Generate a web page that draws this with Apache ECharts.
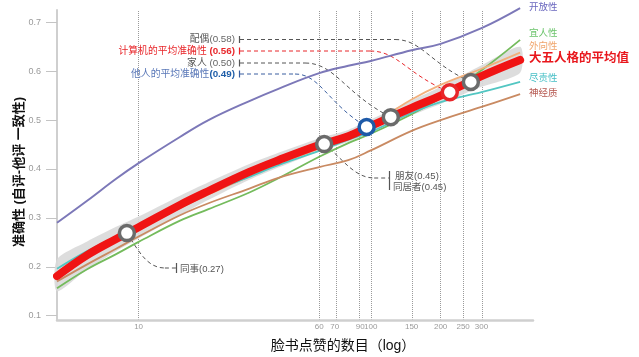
<!DOCTYPE html>
<html><head><meta charset="utf-8">
<script src="https://cdn.jsdelivr.net/npm/echarts@6/dist/echarts.min.js"></script>
<style>html,body{margin:0;padding:0;background:#fff}#c{width:639px;height:357px}</style>
</head><body><div id="c"></div>
<script>
// ---------- data ----------
const likes     = [4.45, 6, 8, 10, 15, 20, 30, 40, 60, 80, 100, 150, 200, 300, 440];
const meanAcc   = [0.181,0.224,0.257,0.281,0.326,0.355,0.394,0.418,0.449,0.467,0.488,0.525,0.550,0.590,0.623];
const bandLow   = [0.150,0.195,0.232,0.258,0.305,0.337,0.378,0.403,0.436,0.455,0.475,0.510,0.533,0.568,0.597];
const bandHigh  = [0.215,0.252,0.282,0.303,0.345,0.373,0.410,0.433,0.463,0.480,0.501,0.540,0.568,0.612,0.650];
const openness  = [0.290,0.335,0.380,0.412,0.465,0.500,0.539,0.564,0.596,0.611,0.621,0.643,0.656,0.688,0.729];
const agreeable = [0.156,0.195,0.226,0.251,0.294,0.318,0.352,0.381,0.425,0.453,0.472,0.512,0.545,0.602,0.664];
const extravert = [0.178,0.220,0.252,0.276,0.320,0.348,0.385,0.410,0.442,0.465,0.490,0.542,0.572,0.605,0.638];
const conscient = [0.196,0.232,0.262,0.284,0.326,0.352,0.384,0.408,0.437,0.460,0.476,0.515,0.537,0.557,0.578];
const neurotic  = [0.170,0.205,0.237,0.262,0.305,0.330,0.360,0.382,0.404,0.418,0.438,0.478,0.500,0.527,0.553];
const tickLikes = [10, 60, 70, 90, 100, 150, 200, 250, 300];
const yTicks    = [0.1, 0.2, 0.3, 0.4, 0.5, 0.6, 0.7];
const judgeKeys = ['coworker', 'friend', 'others', 'family', 'computer', 'spouse'];
const judgeLikes= [8.9, 63, 96, 122, 219, 270];
const judgeAcc  = [0.269, 0.451, 0.486, 0.506, 0.557, 0.578];
const traitNames = ['开放性', '宜人性', '外向性', '尽责性', '神经质'];
const meanName = '大五人格的平均值';
const xName = '脸书点赞的数目（log）';
const yName = '准确性 (自评-他评 一致性)';

// ---------- styles ----------
const FONT = '"Liberation Sans","Noto Sans CJK SC",sans-serif';
const traitStyle = [
  {line:'#7c78b8', label:'#6b68bf', w:2,   off:[0,-1]},
  {line:'#74bb5c', label:'#6cc46c', w:1.8, off:[0,-7]},
  {line:'#f2b07c', label:'#f0a56c', w:1.8, off:[0,-6]},
  {line:'#52c6c2', label:'#47bfc6', w:1.8, off:[0,-4]},
  {line:'#c98a62', label:'#b5564e', w:1.8, off:[0,-1]}
];
const traitData = [openness, agreeable, extravert, conscient, neurotic];
const markerColor = {coworker:'#6b6b6b', friend:'#6b6b6b', others:'#1e5aa8', family:'#6b6b6b', computer:'#e8262a', spouse:'#6b6b6b'};

const L = v => Math.log10(v);
const pts = arr => likes.map((n, i) => [L(n), arr[i]]);

const series = [];
series.push({type:'custom', name:'band', z:1, silent:true,
  data: likes.map((n,i)=>[L(n), bandLow[i], bandHigh[i]]),
  renderItem: function(params, api){
    if (params.dataIndex !== 0) return;
    const up = likes.map((n,i)=>api.coord([L(n), bandHigh[i]]));
    const lo = likes.map((n,i)=>api.coord([L(n), bandLow[i]])).reverse();
    return {type:'polygon', shape:{points: up.concat(lo), smooth:0.25}, style:{fill:'#d9d9d9', opacity:0.9}};
  }});
traitData.forEach((arr, k) => {
  const s = traitStyle[k];
  const ser = {type:'line', name:traitNames[k], data:pts(arr), smooth:0.4, symbol:'none', clip:false,
    lineStyle:{color:s.line, width:s.w}, z:3,
    endLabel:{show:true, formatter:traitNames[k], color:s.label, fontSize:9.5, fontFamily:FONT, distance:9, offset:s.off}};
  if (k === 0) ser.markLine = {silent:true, symbol:['none','none'], label:{show:false}, z:0,
    lineStyle:{type:'dotted', color:'#9a9a9a', width:1},
    data: tickLikes.map(t => ({xAxis: L(t)}))};
  series.push(ser);
});
series.push({type:'line', name:meanName, data:pts(meanAcc), smooth:0.4, symbol:'none', clip:false,
  lineStyle:{color:'#f01414', width:8, cap:'round'}, z:4,
  endLabel:{show:true, formatter:meanName, color:'#e8161c', fontSize:12.5, fontWeight:'bold', fontFamily:FONT, distance:9, offset:[0,-1]}});
series.push({type:'scatter', name:'judges', z:6, symbol:'circle', symbolSize:15,
  data: judgeKeys.map((k,i)=>({value:[L(judgeLikes[i]), judgeAcc[i]],
    itemStyle:{color:'#fff', opacity:1, borderColor:markerColor[k], borderWidth:3.5}}))});

const chart = echarts.init(document.getElementById('c'), null, {renderer:'canvas'});
chart.setOption({
  animation:false,
  grid:{left:57, right:106, top:10, bottom:37},
  xAxis:{type:'value', min:L(4.45), max:L(500),
    axisLine:{lineStyle:{color:'#cfcfcf', width:2.5}},
    axisTick:{show:false}, splitLine:{show:false},
    axisLabel:{customValues: tickLikes.map(L), formatter: v => String(Math.round(Math.pow(10, v))),
      color:'#9a9a9a', fontSize:8, margin:3, fontFamily:FONT}},
  yAxis:{type:'value', min:0.0912, max:0.7252,
    axisLine:{show:true, lineStyle:{color:'#cfcfcf', width:2}},
    axisTick:{show:true, customValues:yTicks, length:11, lineStyle:{color:'#c4c4c4', width:1}},
    splitLine:{show:false},
    axisLabel:{customValues:yTicks, formatter: v => v.toFixed(1), color:'#9a9a9a', fontSize:9, margin:16, fontFamily:FONT}},
  series: series
});

// ---------- annotations ----------
const P = i => chart.convertToPixel({gridIndex:0}, [L(judgeLikes[i]), judgeAcc[i]]);
const g = [];
const dash = [4, 3];
function txt(x, y, text, style) {
  g.push({type:'text', x, y, z:10, style:Object.assign({text, fontSize:9.5, fontFamily:FONT, fill:'#555', align:'left', verticalAlign:'middle'}, style)});
}
function line(points, color) { g.push({type:'polyline', z:1, shape:{points}, style:{stroke:color, lineWidth:1, lineDash:dash, fill:null}}); }
function solid(points, color) { g.push({type:'polyline', z:1, shape:{points}, style:{stroke:color, lineWidth:1.2, fill:null}}); }
function bez(x1,y1,c1x,c1y,c2x,c2y,x2,y2,color){ g.push({type:'bezierCurve', z:1, shape:{x1,y1,cpx1:c1x,cpy1:c1y,cpx2:c2x,cpy2:c2y,x2,y2}, style:{stroke:color, lineWidth:1, lineDash:dash, fill:null}}); }

const topAnn = [
  {i:5, y:39.5, color:'#555', bend:395, rich:'{a|配偶}{b|(0.58)}', a:{fill:'#555'}, b:{fill:'#666'}},
  {i:4, y:51,   color:'#e8262a', bend:370, rich:'{a|计算机的平均准确性 }{b|(0.56)}', a:{fill:'#e8262a'}, b:{fill:'#e8262a', fontWeight:'bold'}},
  {i:3, y:63,   color:'#555', bend:305, rich:'{a|家人 }{b|(0.50)}', a:{fill:'#555'}, b:{fill:'#666'}},
  {i:2, y:74,   color:'#3a5fa0', bend:295, rich:'{a|他人的平均准确性}{b|(0.49)}', a:{fill:'#5a78b8'}, b:{fill:'#1f5ea8', fontWeight:'bold'}}
];
topAnn.forEach(a => {
  const p = P(a.i);
  g.push({type:'text', x:235, y:a.y, z:10, style:{text:a.rich, align:'right', verticalAlign:'middle',
    rich:{a:Object.assign({fontSize:9.8, fontFamily:FONT}, a.a), b:Object.assign({fontSize:9.8, fontFamily:FONT}, a.b)}}});
  solid([[239.5, a.y-3.5],[239.5, a.y+3.5]], a.color);
  line([[240, a.y],[a.bend, a.y]], a.color);
  const dx = p[0]-a.bend, dy = p[1]-a.y;
  bez(a.bend, a.y, a.bend+dx*0.35, a.y, a.bend+dx*0.45, a.y+dy*0.55, p[0], p[1], a.color);
});
// coworker
(function(){
  const p = P(0);
  bez(p[0], p[1], p[0]+12, p[1]+18, p[0]+20, 268, p[0]+38, 268, '#555');
  line([[p[0]+38, 268],[176, 268]], '#555');
  solid([[176.5, 263],[176.5, 273]], '#555');
  txt(180, 269, '同事(0.27)');
})();
// friend / cohabitant
(function(){
  const p = P(1);
  bez(p[0], p[1], p[0]+18, p[1]+14, p[0]+30, 178, p[0]+50, 178, '#555');
  line([[p[0]+50, 178],[389, 178]], '#555');
  solid([[389.5, 171],[389.5, 190]], '#555');
  txt(395, 176, '朋友(0.45)');
  txt(393, 187, '同居者(0.45)');
})();
// axis names
g.push({type:'text', x:19, y:172, rotation:Math.PI/2, z:10, style:{text:yName, fontSize:13, fontWeight:'bold', fontFamily:FONT, fill:'#111', align:'center', verticalAlign:'middle'}});
g.push({type:'text', x:343, y:346, z:10, style:{text:xName, fontSize:14, fontFamily:FONT, fill:'#111', align:'center', verticalAlign:'middle'}});
chart.setOption({graphic:g});
</script></body></html>
